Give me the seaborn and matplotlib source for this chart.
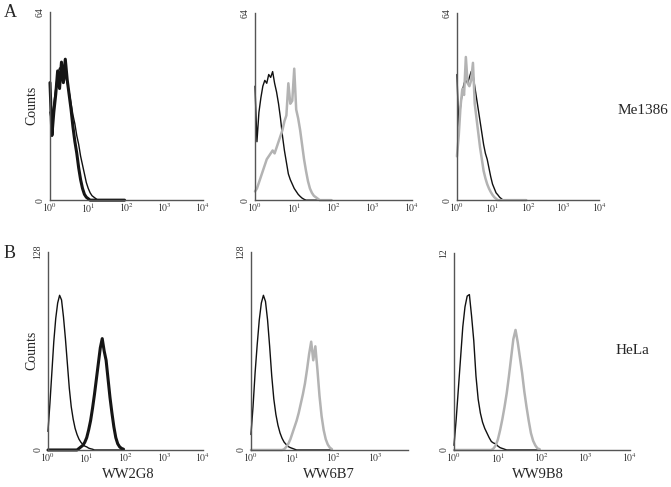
import numpy as np
import seaborn as sns
import matplotlib.pyplot as plt
from matplotlib.ticker import LogLocator, NullFormatter

sns.set_style("white")
plt.rcParams['font.family'] = ['Liberation Serif', 'DejaVu Serif']
plt.rcParams['mathtext.fontset'] = 'stix'

# log10 fluorescence bins (0 .. 1.95 decades), counts per bin
log_fl = np.arange(0, 2.0, 0.05)

# row A: Me1386 (y max 64)
a1_ctrl = [30, 26, 33, 38, 43, 45, 44, 45, 42, 40, 37, 33, 29, 26, 22, 19, 15, 12, 9, 6,
           4, 2.5, 1.5, 1, 0.5] + [0] * 15
a1_ab = [40, 22, 30, 36, 44, 38, 47, 40, 48, 41, 36, 31, 25, 20, 16, 11, 7, 4, 2, 1,
         0.5] + [0] * 19
a2_ctrl = [39, 20, 30, 35, 39, 41, 40, 43, 42, 44, 40, 37, 33, 28, 22, 17, 13, 9, 7, 5.5,
           4, 3, 2, 1.3, 0.7, 0.3] + [0] * 14
a2_ab = [3, 4, 6, 8, 10, 12, 14, 15, 16, 17, 16, 18, 20, 22, 24, 27, 29, 40, 33, 34,
         45, 31, 28, 24, 19, 14, 10, 6.5, 4, 2.5, 1.5, 1, 0.5] + [0] * 7
a3_ctrl = [43, 25, 32, 37, 40, 41, 40, 42, 44, 43, 39, 35, 31, 27, 23, 19, 16, 14, 11, 8,
           5.5, 4, 2.5, 1.8, 1, 0.5] + [0] * 14
a3_ab = [15, 22, 32, 38, 36, 49, 40, 39, 41, 47, 33, 28, 23, 18, 14, 10, 7.5, 5.5, 4, 2.8,
         1.8, 1, 0.5] + [0] * 17

# row B: HeLa (y max 128)
b1_ctrl = [12, 30, 50, 70, 85, 95, 100, 97, 86, 72, 56, 40, 28, 20, 14, 10, 7, 5, 3.5, 2.5,
           2, 1.2, 0.8, 0.5] + [0] * 16
b1_ab = [0] * 16 + [1, 2, 3, 5, 8, 13, 19, 27, 36, 46, 56, 66, 72, 64, 58, 46, 34, 24, 15, 8,
                    4, 2, 1, 0.5]
b2_ctrl = [10, 28, 50, 68, 84, 95, 100, 96, 84, 67, 48, 33, 23, 16, 11, 7.5, 5, 3.5, 2.2, 1.5,
           1, 0.5] + [0] * 18
b2_ab = [0] * 16 + [0.5, 2, 4, 7, 11, 15, 19, 24, 30, 36, 43, 52, 62, 70, 58, 67, 52, 35, 22, 13,
                    7, 3.5, 1.5, 0.5]
b3_ctrl = [3, 20, 40, 60, 80, 93, 100, 101, 87, 71, 48, 33, 24, 18, 14, 11, 8, 5.5, 4.5, 4,
           2.5, 1.5, 1, 0.5] + [0] * 16
b3_ab = [0] * 18 + [1, 3, 7, 13, 20, 28, 37, 48, 60, 72, 78, 70, 60, 50, 38, 28, 19, 11, 6, 3,
                    1, 0.5]

antibodies = ["WW2G8", "WW6B7", "WW9B8"]
cell_lines = ["Me1386", "HeLa"]
y_max = [64, 128]
y_max_labels = [["64", "64", "64"], ["128", "128", "12"]]
x_tick_labels = [r"$10^{0}$", r"$10^{1}$", r"$10^{2}$", r"$10^{3}$", r"$10^{4}$"]

panels = [
    # (row, col, ctrl, ab, ab colour, ab width, [left, bottom, width, height], x max decade)
    (0, 0, a1_ctrl, a1_ab, "#151515", 2.2, [0.0745, 0.589, 0.228, 0.386], 4),
    (0, 1, a2_ctrl, a2_ab, "#b3b3b3", 1.8, [0.380, 0.589, 0.234, 0.384], 4),
    (0, 2, a3_ctrl, a3_ab, "#b3b3b3", 1.8, [0.681, 0.589, 0.212, 0.384], 4),
    (1, 0, b1_ctrl, b1_ab, "#151515", 2.2, [0.0715, 0.076, 0.231, 0.4066], 4),
    (1, 1, b2_ctrl, b2_ab, "#b3b3b3", 1.8, [0.374, 0.076, 0.234, 0.4066], 3.78),
    (1, 2, b3_ctrl, b3_ab, "#b3b3b3", 1.8, [0.6766, 0.076, 0.262, 0.4045], 4),
]

fig = plt.figure(figsize=(6.71, 4.87), dpi=100)
x = 10 ** log_fl

for row, col, ctrl, ab, ab_col, ab_lw, rect, xmax in panels:
    ax = fig.add_axes(rect)
    sns.lineplot(x=x, y=ctrl, ax=ax, color="#111111", lw=1.0, clip_on=False)
    sns.lineplot(x=x, y=ab, ax=ax, color=ab_col, lw=ab_lw, clip_on=False)
    ax.set_xscale("log")
    ax.set_xlim(1, 10 ** xmax)
    ymax = y_max[row]
    ax.set_ylim(0, ymax)
    for side in ["top", "right"]:
        ax.spines[side].set_visible(False)
    for side in ["left", "bottom"]:
        ax.spines[side].set_color("#555555")
        ax.spines[side].set_linewidth(1.0)
    yt = np.linspace(0, ymax, 5)
    ax.set_yticks(yt)
    ax.set_yticklabels(["0", "", "", "", y_max_labels[row][col]], rotation=90,
                       va="center", fontsize=7, color="#333333")
    major = [1, 10, 100, 1000, 10000] if xmax == 4 else [1, 10, 100, 1000]
    ax.set_xticks(major)
    ax.set_xticklabels(x_tick_labels[:len(major)], fontsize=7, color="#333333")
    ax.xaxis.set_minor_locator(LogLocator(base=10, subs=np.arange(1.5, 10, 0.5), numticks=50))
    ax.xaxis.set_minor_formatter(NullFormatter())
    ax.tick_params(axis="y", which="major", direction="out", length=2.5, width=0.8,
                   color="#555555", pad=1.5)
    ax.tick_params(axis="x", which="major", direction="inout", length=2, width=0.8,
                   color="#555555", pad=0)
    ax.tick_params(axis="x", which="minor", direction="inout", length=2, width=0.6,
                   color="#777777")
    ax.set_xlabel("")
    ax.set_ylabel("")

fig.text(0.005, 0.975, "A", fontsize=13, va="center", ha="left")
fig.text(0.005, 0.48, "B", fontsize=13, va="center", ha="left")
fig.text(0.048, 1 - 105 / 487, "Counts", rotation=90, fontsize=10, va="center", ha="center")
fig.text(0.048, 1 - 350 / 487, "Counts", rotation=90, fontsize=10, va="center", ha="center")
fig.text(643 / 671, 1 - 110 / 487, cell_lines[0], fontsize=11, va="center", ha="center")
fig.text(632 / 671, 1 - 350 / 487, cell_lines[1], fontsize=11, va="center", ha="center")
for xc, name in zip([128, 329, 538], antibodies):
    fig.text(xc / 671, 1 - 474 / 487, name, fontsize=10.5, va="center", ha="center")

fig.savefig("out.png", dpi=100)
